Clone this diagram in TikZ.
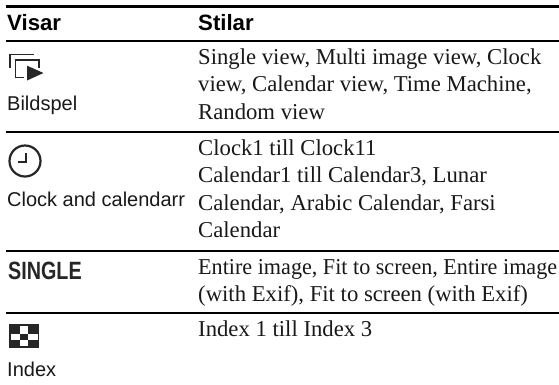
\documentclass[tikz,border=0pt]{standalone}
\usepackage{fontspec}
\setmainfont{Liberation Serif}
\newfontfamily\hel{Liberation Sans}
\tikzset{
 x=1pt,y=-1pt,
 rulea/.style={line width=2.5pt,black},
 ruleb/.style={line width=2pt,black},
 body/.style={anchor=base west,inner sep=0pt,font=\fontsize{22.7}{26}\selectfont,text=black!90},
 lab/.style={anchor=base west,inner sep=0pt,font=\hel\fontsize{20}{24}\selectfont,text=black!90},
 head/.style={anchor=base west,inner sep=0pt,font=\hel\bfseries\fontsize{22.2}{26}\selectfont},
 icon/.style={line width=1.7pt,black!85},
}
\begin{document}
\begin{tikzpicture}
\useasboundingbox (0,0) rectangle (559,384);
\fill[white] (0,0) rectangle (559,384);
\draw[rulea] (6,6.3) -- (559,6.3);
\draw[ruleb] (6,41) -- (559,41);
\draw[ruleb] (6,132) -- (559,132);
\draw[ruleb] (6,251) -- (559,251);
\draw[ruleb] (6,312.5) -- (559,312.5);
\node[head] (h1) at (7,30) {Visar};
\node[head] (h2) at (198,30) {Stilar};
% slideshow icon
\draw[icon] (10,68) -- (10,54.5) -- (33.5,54.5);
\draw[icon] (15.5,78) -- (15.5,60) -- (39,60) -- (39,68);
\draw[icon] (15.5,77.5) -- (24,77.5);
\fill[black!85] (27,65.7) -- (43.5,73) -- (27,80.5) -- cycle;
\node[lab] (l1) at (7,110) {Bildspel};
\node[body] (t1) at (198,64) {Single view, Multi image view, Clock};
\node[body] (t2) at (198,91.5) {view, Calendar view, Time Machine,};
\node[body] (t3) at (198,119) {Random view};
% clock icon
\draw[icon,line width=2.2pt] (25,161) circle (15.5);
\draw[black!85,line width=2pt] (25.5,153) -- (25.5,162) -- (18,162);
\node[lab] (l2) at (7,206) {Clock and calendarr};
\node[body] (t4) at (198,155) {Clock1 till Clock11};
\node[body] (t5) at (198,182.5) {Calendar1 till Calendar3, Lunar};
\node[body] (t6) at (198,210) {Calendar, Arabic Calendar, Farsi};
\node[body] (t7) at (198,237.5) {Calendar};
\node[anchor=base west,inner sep=0pt,font=\hel\bfseries\fontsize{25}{28}\selectfont,text=black!85] (s) at (8,279) {\scalebox{.79}[1]{SINGLE}};
\node[body] (t8) at (198,274) {\scalebox{.975}[1]{Entire image, Fit to screen, Entire image}};
\node[body] (t9) at (198,301.5) {(with Exif), Fit to screen (with Exif)};
% index icon
\fill[black!85] (9.3,324.3) rectangle (39.3,348);
\fill[white] (20,326) rectangle (28,334);
\fill[white] (11,334) rectangle (20,339.5);
\fill[white] (28,334) rectangle (37.5,339.5);
\fill[white] (20,339.5) rectangle (28,346);
\node[body] (t10) at (198,336) {Index 1 till Index 3};
\node[lab] (l3) at (7,376) {Index};
\end{tikzpicture}
\end{document}
